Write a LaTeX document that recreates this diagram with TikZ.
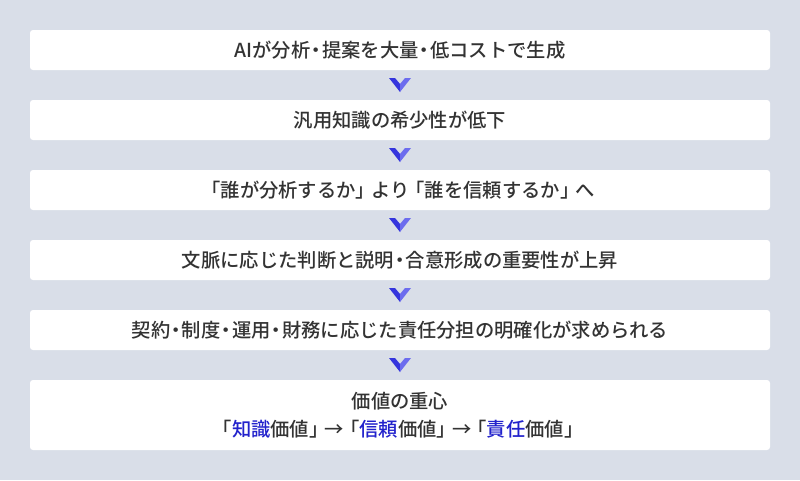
\documentclass[tikz,border=0pt]{standalone}
\usepackage{fontspec}
\setmainfont{Noto Sans CJK JP}[BoldFont={Noto Sans CJK JP Medium}]
\usetikzlibrary{positioning}
\usetikzlibrary{calc}
\definecolor{color-bg}{HTML}{D9DEE8}
\definecolor{color-text}{HTML}{333333}
\definecolor{color-key}{HTML}{2222CC}
\definecolor{color-chev-dark}{HTML}{3535DD}
\definecolor{color-chev-light}{HTML}{6C6CEE}
\newcommand{\key}[1]{\textcolor{color-key}{#1}}
\newcommand{\dotsep}{\hspace{-0.2em}・\hspace{-0.2em}}
\newcommand{\lbr}{\hspace{-0.2em}「}
\newcommand{\rbr}{」\hspace{-0.2em}}
\newcommand{\downchevron}[1]{%
\fill[color-chev-dark] ($(#1)+(-11,-7)$) -- ($(#1)+(-5,-7)$) -- ($(#1)+(0,-1)$) -- ($(#1)+(0,7)$) -- cycle;
\fill[color-chev-light] ($(#1)+(11,-7)$) -- ($(#1)+(5,-7)$) -- ($(#1)+(0,-1)$) -- ($(#1)+(0,7)$) -- cycle;}

\begin{document}
\begin{tikzpicture}[x=1pt, y=-1pt, node distance=30pt,
stage/.style={fill=white, rounded corners=3pt, minimum width=740pt, minimum height=40pt, inner sep=0pt, outer sep=0pt, text=color-text, font=\fontsize{19.3}{28}\selectfont\bfseries, align=center}]

\fill[color-bg] (0,0) rectangle (800,480);
\useasboundingbox (0,0) rectangle (800,480);

%% stages
\node [stage] (s1) at (400,50) {AIが分析\dotsep 提案を大量\dotsep 低コストで生成};
\node [stage, below = of s1] (s2) {汎用知識の希少性が低下};
\node [stage, below = of s2] (s3) {\lbr 誰が分析するか\rbr より\lbr 誰を信頼するか\rbr へ};
\node [stage, below = of s3] (s4) {文脈に応じた判断と説明\dotsep 合意形成の重要性が上昇};
\node [stage, below = of s4] (s5) {契約\dotsep 制度\dotsep 運用\dotsep 財務に応じた責任分担の明確化が求められる};
\node [stage, below = of s5, minimum height=70pt] (s6) {価値の重心\\\lbr\key{知識}価値\rbr →\lbr\key{信頼}価値\rbr →\lbr\key{責任}価値\rbr};

%% chevrons
\coordinate (c1) at ($(s1.south)!0.5!(s2.north)$);
\coordinate (c2) at ($(s2.south)!0.5!(s3.north)$);
\coordinate (c3) at ($(s3.south)!0.5!(s4.north)$);
\coordinate (c4) at ($(s4.south)!0.5!(s5.north)$);
\coordinate (c5) at ($(s5.south)!0.5!(s6.north)$);
\downchevron{c1}
\downchevron{c2}
\downchevron{c3}
\downchevron{c4}
\downchevron{c5}

\end{tikzpicture}
\end{document}
